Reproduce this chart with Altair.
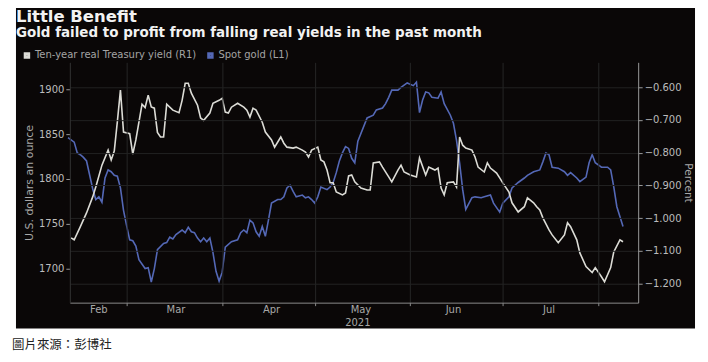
import altair as alt
import pandas as pd

# ---------------- data ----------------
gold_dates = [
    "2021-02-10", "2021-02-12", "2021-02-13", "2021-02-14", "2021-02-15", "2021-02-16",
    "2021-02-18", "2021-02-19", "2021-02-20", "2021-02-21", "2021-02-22", "2021-02-23",
    "2021-02-24", "2021-02-25", "2021-02-26", "2021-02-27", "2021-02-28", "2021-03-01",
    "2021-03-02", "2021-03-03", "2021-03-04", "2021-03-05", "2021-03-07", "2021-03-08",
    "2021-03-09", "2021-03-10", "2021-03-11", "2021-03-13", "2021-03-14", "2021-03-15",
    "2021-03-16", "2021-03-17", "2021-03-19", "2021-03-20", "2021-03-21", "2021-03-22",
    "2021-03-23", "2021-03-24", "2021-03-25", "2021-03-26", "2021-03-27", "2021-03-28",
    "2021-03-29", "2021-03-30", "2021-03-31", "2021-04-01", "2021-04-02", "2021-04-04",
    "2021-04-06", "2021-04-07", "2021-04-08", "2021-04-09", "2021-04-10", "2021-04-11",
    "2021-04-12", "2021-04-13", "2021-04-14", "2021-04-15", "2021-04-16", "2021-04-17",
    "2021-04-19", "2021-04-20", "2021-04-21", "2021-04-22", "2021-04-23", "2021-04-24",
    "2021-04-25", "2021-04-27", "2021-04-28", "2021-04-29", "2021-04-30", "2021-05-01",
    "2021-05-02", "2021-05-03", "2021-05-05", "2021-05-06", "2021-05-07", "2021-05-08",
    "2021-05-09", "2021-05-10", "2021-05-11", "2021-05-12", "2021-05-13", "2021-05-14",
    "2021-05-15", "2021-05-18", "2021-05-20", "2021-05-21", "2021-05-23", "2021-05-24",
    "2021-05-25", "2021-05-26", "2021-05-28", "2021-05-29", "2021-05-31", "2021-06-02",
    "2021-06-03", "2021-06-04", "2021-06-05", "2021-06-06", "2021-06-07", "2021-06-08",
    "2021-06-10", "2021-06-11", "2021-06-12", "2021-06-14", "2021-06-15", "2021-06-16",
    "2021-06-17", "2021-06-18", "2021-06-19", "2021-06-21", "2021-06-22", "2021-06-24",
    "2021-06-25", "2021-06-27", "2021-06-28", "2021-06-30", "2021-07-01", "2021-07-03",
    "2021-07-04", "2021-07-06", "2021-07-08", "2021-07-09", "2021-07-11", "2021-07-13",
    "2021-07-14", "2021-07-15", "2021-07-16", "2021-07-17", "2021-07-19", "2021-07-21",
    "2021-07-22", "2021-07-23", "2021-07-25", "2021-07-26", "2021-07-28", "2021-07-29",
    "2021-07-30", "2021-07-31", "2021-08-02", "2021-08-04", "2021-08-05", "2021-08-06",
    "2021-08-07", "2021-08-09",
]
gold_usd = [
    1846, 1841, 1829, 1827, 1824, 1820,
    1789, 1777, 1780, 1774, 1801, 1810,
    1808, 1804, 1803, 1790, 1765, 1748,
    1732, 1731, 1725, 1710, 1700, 1701,
    1685, 1700, 1721, 1728, 1729, 1735,
    1733, 1738, 1743, 1740, 1746, 1741,
    1740, 1734, 1730, 1734, 1730, 1734,
    1718, 1697, 1686, 1696, 1724, 1730,
    1732, 1740, 1743, 1740, 1754, 1751,
    1741, 1736, 1747, 1736, 1754, 1773,
    1777, 1777, 1780, 1790, 1793, 1786,
    1780, 1782, 1779, 1780, 1777, 1773,
    1780, 1791, 1788, 1791, 1796, 1807,
    1820, 1829, 1836, 1834, 1823, 1818,
    1842, 1868, 1871, 1877, 1879, 1884,
    1891, 1899, 1899, 1902, 1907, 1904,
    1908, 1874, 1888, 1897, 1896, 1891,
    1890, 1897, 1884, 1871, 1862, 1843,
    1818, 1788, 1766, 1779, 1780, 1779,
    1780, 1782, 1773, 1763, 1773, 1780,
    1790, 1796, 1801, 1804, 1808, 1810,
    1819, 1829, 1827, 1813, 1812, 1808,
    1804, 1807, 1801, 1797, 1802, 1818,
    1827, 1818, 1813, 1813, 1810, 1791,
    1769, 1747,
]

yield_dates = [
    "2021-02-11", "2021-02-12", "2021-02-14", "2021-02-16", "2021-02-18", "2021-02-19",
    "2021-02-21", "2021-02-23", "2021-02-24", "2021-02-25", "2021-02-26", "2021-02-27",
    "2021-02-28", "2021-03-02", "2021-03-03", "2021-03-04", "2021-03-06", "2021-03-07",
    "2021-03-08", "2021-03-09", "2021-03-10", "2021-03-11", "2021-03-12", "2021-03-13",
    "2021-03-14", "2021-03-16", "2021-03-18", "2021-03-19", "2021-03-20", "2021-03-21",
    "2021-03-22", "2021-03-24", "2021-03-25", "2021-03-26", "2021-03-28", "2021-03-29",
    "2021-03-31", "2021-04-01", "2021-04-02", "2021-04-03", "2021-04-04", "2021-04-06",
    "2021-04-08", "2021-04-09", "2021-04-10", "2021-04-11", "2021-04-12", "2021-04-14",
    "2021-04-15", "2021-04-17", "2021-04-18", "2021-04-20", "2021-04-21", "2021-04-22",
    "2021-04-24", "2021-04-25", "2021-04-27", "2021-04-28", "2021-04-29", "2021-04-30",
    "2021-05-02", "2021-05-03", "2021-05-04", "2021-05-05", "2021-05-06", "2021-05-07",
    "2021-05-08", "2021-05-10", "2021-05-11", "2021-05-12", "2021-05-13", "2021-05-14",
    "2021-05-16", "2021-05-18", "2021-05-19", "2021-05-20", "2021-05-22", "2021-05-23",
    "2021-05-25", "2021-05-26", "2021-05-28", "2021-05-29", "2021-05-30", "2021-06-01",
    "2021-06-03", "2021-06-04", "2021-06-06", "2021-06-07", "2021-06-09", "2021-06-10",
    "2021-06-11", "2021-06-12", "2021-06-13", "2021-06-15", "2021-06-16", "2021-06-17",
    "2021-06-18", "2021-06-19", "2021-06-21", "2021-06-22", "2021-06-23", "2021-06-25",
    "2021-06-26", "2021-06-27", "2021-06-29", "2021-06-30", "2021-07-01", "2021-07-03",
    "2021-07-04", "2021-07-06", "2021-07-08", "2021-07-09", "2021-07-11", "2021-07-12",
    "2021-07-13", "2021-07-14", "2021-07-16", "2021-07-17", "2021-07-19", "2021-07-21",
    "2021-07-22", "2021-07-23", "2021-07-25", "2021-07-26", "2021-07-28", "2021-07-30",
    "2021-07-31", "2021-08-02", "2021-08-03", "2021-08-05", "2021-08-06", "2021-08-08",
    "2021-08-09",
]
yield_pct = [
    -1.060, -1.066, -1.026, -0.984, -0.935, -0.905,
    -0.838, -0.792, -0.822, -0.795, -0.705, -0.609,
    -0.737, -0.742, -0.804, -0.761, -0.652, -0.662,
    -0.624, -0.660, -0.664, -0.738, -0.752, -0.752,
    -0.652, -0.670, -0.678, -0.640, -0.588, -0.588,
    -0.618, -0.655, -0.694, -0.701, -0.679, -0.649,
    -0.640, -0.634, -0.676, -0.679, -0.661, -0.649,
    -0.661, -0.670, -0.691, -0.664, -0.670, -0.707,
    -0.737, -0.761, -0.783, -0.752, -0.771, -0.783,
    -0.786, -0.783, -0.792, -0.798, -0.813, -0.792,
    -0.783, -0.822, -0.828, -0.853, -0.892, -0.892,
    -0.920, -0.929, -0.923, -0.871, -0.868, -0.889,
    -0.908, -0.914, -0.914, -0.831, -0.828, -0.844,
    -0.874, -0.889, -0.853, -0.838, -0.859, -0.868,
    -0.874, -0.816, -0.868, -0.844, -0.853, -0.847,
    -0.908, -0.929, -0.892, -0.889, -0.905, -0.752,
    -0.777, -0.786, -0.792, -0.813, -0.844, -0.859,
    -0.831, -0.847, -0.862, -0.877, -0.892, -0.920,
    -0.953, -0.981, -0.965, -0.938, -0.953, -0.965,
    -0.975, -0.999, -1.036, -1.051, -1.075, -1.051,
    -1.014, -1.026, -1.066, -1.106, -1.148, -1.166,
    -1.151, -1.179, -1.194, -1.151, -1.103, -1.066,
    -1.072,
]

series_names = ["Ten-year real Treasury yield (R1)", "Spot gold (L1)"]
series_colors = ["#dcdcd6", "#5468b6"]

month_names = ["Feb", "Mar", "Apr", "May", "Jun", "Jul"]
month_label_dates = ["2021-02-20", "2021-03-17", "2021-04-17", "2021-05-16", "2021-06-15", "2021-07-16"]
year_label = ["2021"]
year_label_date = ["2021-05-15"]

gold_ticks = [1700, 1750, 1800, 1850, 1900]
yield_ticks = [-0.6, -0.7, -0.8, -0.9, -1.0, -1.1, -1.2]
gold_domain = [1662, 1930]
yield_domain = [-1.258, -0.524]

title_text = ["Little Benefit"]
subtitle_text = ["Gold failed to profit from falling real yields in the past month"]
source_text = ["圖片來源：彭博社"]

# ---------------- tables ----------------
gold_df = pd.DataFrame({"date": gold_dates, "value": gold_usd, "series": series_names[1]})
yield_df = pd.DataFrame({"date": yield_dates, "value": yield_pct, "series": series_names[0]})
month_df = pd.DataFrame({"date": month_label_dates, "label": month_names})
year_df = pd.DataFrame({"date": year_label_date, "label": year_label})

W, H = 570, 241
FONT = "DejaVu Sans"
BG = "#0a0707"
AXIS_TEXT = "#bcbcbc"

x_scale = alt.Scale(
    type="utc",
    domain=[alt.DateTime(year=2021, month=2, date=10, hours=14, utc=True),
            alt.DateTime(year=2021, month=8, date=13, hours=22, utc=True)],
)
month_starts = [alt.DateTime(year=2021, month=m, date=1, utc=True) for m in range(3, 9)]
x_axis = alt.Axis(values=month_starts, labels=False, title=None, grid=True,
                  gridColor="#262626", gridWidth=1, domainColor="#8a8a8a",
                  tickColor="#8a8a8a", tickSize=3, zindex=1)
color_enc = alt.Color("series:N",
                      scale=alt.Scale(domain=series_names, range=series_colors),
                      legend=alt.Legend(orient="none", legendX=-48, legendY=-12,
                                        direction="horizontal", title=None,
                                        symbolType="square", symbolSize=12,
                                        symbolStrokeWidth=3, labelFontSize=10,
                                        labelColor="#a4a4a4", labelFont=FONT,
                                        labelLimit=0, columnPadding=6, labelOffset=3))

panel = alt.Chart(pd.DataFrame({"k": [0]})).mark_rect(color=BG).encode(
    x=alt.value(-54), x2=alt.value(627), y=alt.value(-70), y2=alt.value(267)
)

gold_line = alt.Chart(gold_df).mark_line(strokeWidth=1.6).encode(
    x=alt.X("date:T", scale=x_scale, axis=x_axis),
    y=alt.Y("value:Q", scale=alt.Scale(domain=gold_domain, nice=False, zero=False),
            axis=alt.Axis(orient="left", values=gold_ticks, format="d", grid=False,
                          title="U.S. dollars an ounce", titleColor="#a8a8a8",
                          titleFont=FONT, titleFontSize=11, titleFontWeight="normal",
                          titlePadding=4, labelColor=AXIS_TEXT, labelFont=FONT,
                          labelFontSize=10, labelPadding=2, tickSize=4,
                          tickColor="#9a9a9a", domainColor="#333333", zindex=1)),
    color=color_enc,
)

yield_line = alt.Chart(yield_df).mark_line(strokeWidth=1.6).encode(
    x=alt.X("date:T", scale=x_scale, axis=x_axis),
    y=alt.Y("value:Q", scale=alt.Scale(domain=yield_domain, nice=False, zero=False),
            axis=alt.Axis(orient="right", values=yield_ticks, format=".3f", grid=True,
                          gridColor="#222222", title="Percent", titleColor="#a8a8a8",
                          titleFont=FONT, titleFontSize=10.5, titleFontWeight="normal",
                          titlePadding=1, titleAngle=90, labelColor=AXIS_TEXT,
                          labelFont=FONT, labelFontSize=10, labelPadding=2,
                          tickSize=4, tickColor="#9a9a9a", domainColor="#9a9a9a",
                          zindex=1)),
    color=color_enc,
)

month_text = alt.Chart(month_df).mark_text(font=FONT, fontSize=10, color="#a8a8a8",
                                           baseline="middle").encode(
    x=alt.X("date:T", scale=x_scale), y=alt.value(248), text="label:N"
)
year_text = alt.Chart(year_df).mark_text(font=FONT, fontSize=10, color="#a8a8a8",
                                         baseline="middle").encode(
    x=alt.X("date:T", scale=x_scale), y=alt.value(261), text="label:N"
)

title_mark = alt.Chart(pd.DataFrame({"t": title_text})).mark_text(
    font=FONT, fontSize=16.5, fontWeight="bold", color="#f2f2f2", align="left",
    baseline="top").encode(x=alt.value(-54), y=alt.value(-53), text="t:N")
subtitle_mark = alt.Chart(pd.DataFrame({"t": subtitle_text})).mark_text(
    font=FONT, fontSize=13.5, fontWeight="bold", color="#f2f2f2", align="left",
    baseline="alphabetic").encode(x=alt.value(-54), y=alt.value(-25), text="t:N")
source_mark = alt.Chart(pd.DataFrame({"t": source_text})).mark_text(
    font="Noto Sans CJK TC", fontSize=12.5, color="#222222", align="left",
    baseline="middle").encode(x=alt.value(-58), y=alt.value(283), text="t:N")

chart = alt.layer(
    panel, gold_line, yield_line, month_text, year_text,
    title_mark, subtitle_mark, source_mark
).resolve_scale(
    y="independent"
).properties(
    width=W, height=H,
    autosize=alt.AutoSizeParams(type="none"),
    padding={"left": 62, "top": 54, "right": 62, "bottom": 52},
    background="white",
).configure_view(
    stroke=None
)

chart.save("out.html", embed_options={"renderer": "svg", "actions": False})
